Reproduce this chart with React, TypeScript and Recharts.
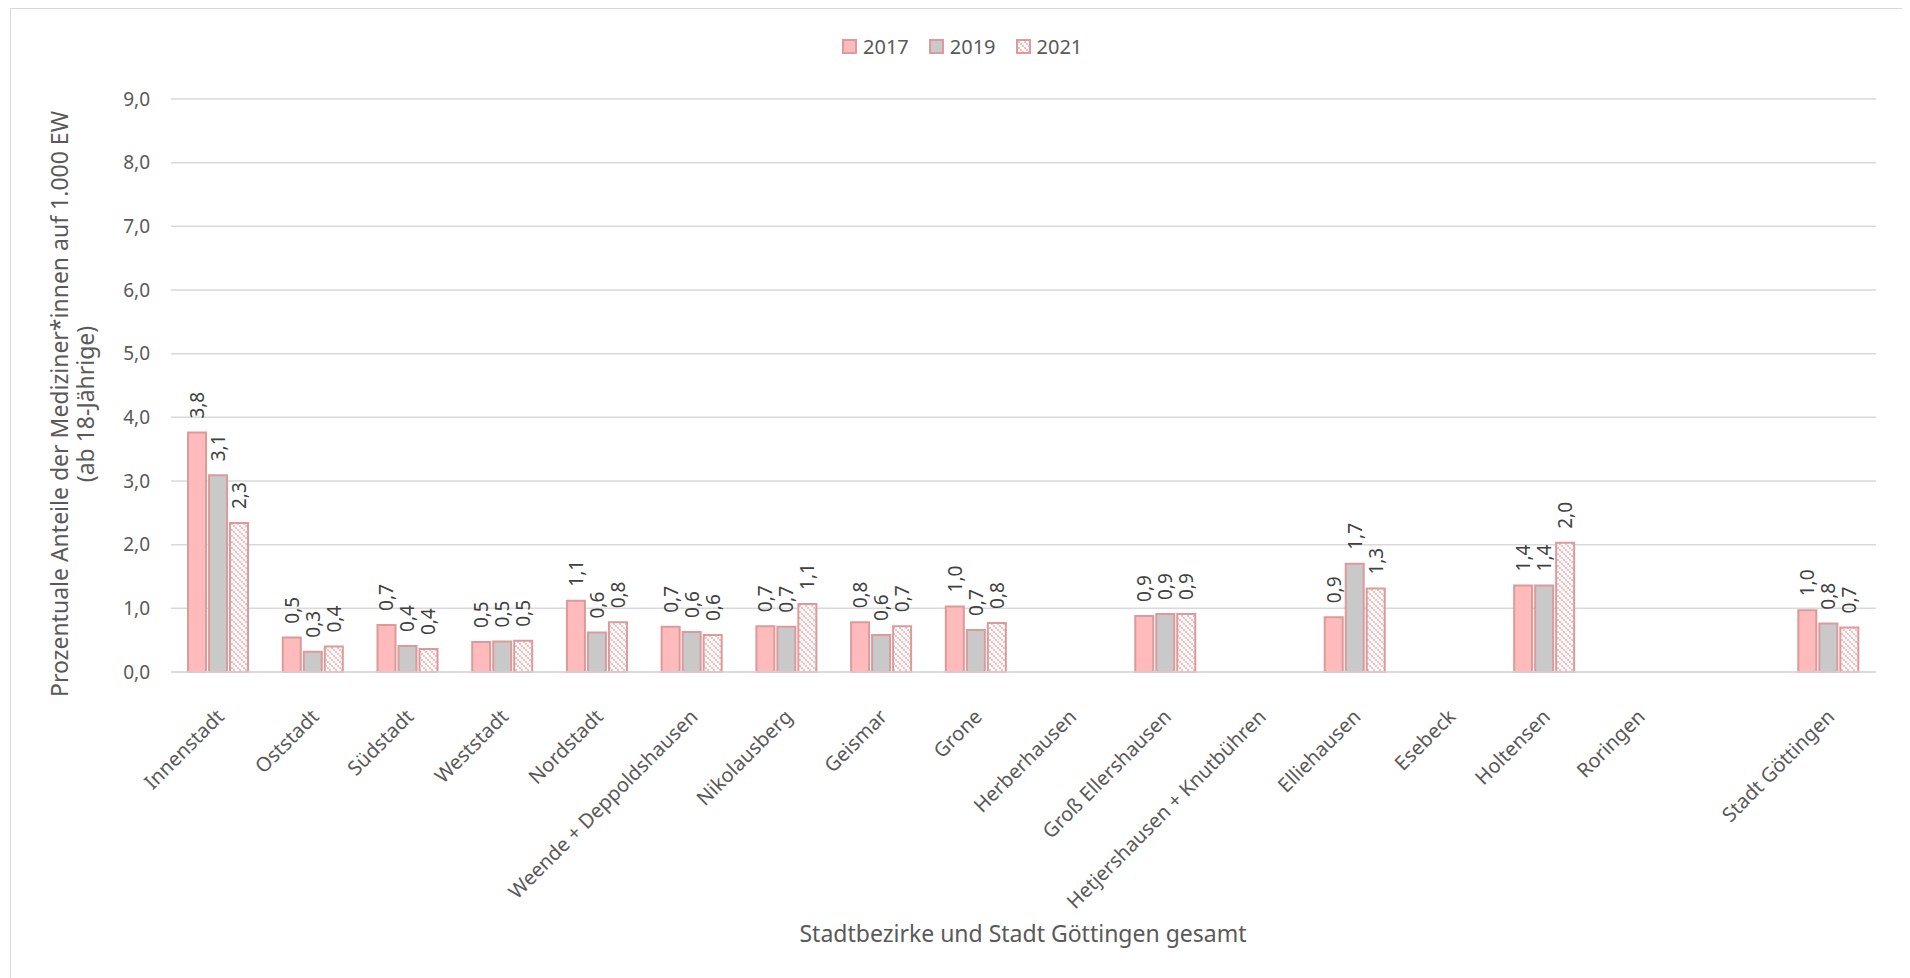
import { BarChart, Bar, XAxis, YAxis, CartesianGrid, LabelList } from 'recharts';

const districts = [
  'Innenstadt', 'Oststadt', 'Südstadt', 'Weststadt', 'Nordstadt', 'Weende + Deppoldshausen',
  'Nikolausberg', 'Geismar', 'Grone', 'Herberhausen', 'Groß Ellershausen',
  'Hetjershausen + Knutbühren', 'Elliehausen', 'Esebeck', 'Holtensen', 'Roringen', '', 'Stadt Göttingen',
];
const values2017 = [3.76, 0.54, 0.74, 0.47, 1.12, 0.71, 0.72, 0.78, 1.03, null, 0.88, null, 0.86, null, 1.36, null, null, 0.97];
const values2019 = [3.09, 0.32, 0.41, 0.48, 0.62, 0.63, 0.71, 0.58, 0.66, null, 0.91, null, 1.7, null, 1.36, null, null, 0.76];
const values2021 = [2.34, 0.4, 0.36, 0.49, 0.78, 0.58, 1.07, 0.72, 0.77, null, 0.91, null, 1.31, null, 2.03, null, null, 0.7];
const yTicks = [0, 1, 2, 3, 4, 5, 6, 7, 8, 9];

const data = districts.map((name, i) => ({
  name,
  y2017: values2017[i],
  y2019: values2019[i],
  y2021: values2021[i],
}));

const FONT = '"Noto Sans", sans-serif';
const PINK = '#FFBBBB';
const GREY = '#C9C9C9';
const EDGE = '#DC9A9A';

const fmt = (v: number) => v.toFixed(1).replace('.', ',');

const ValueLabel = (props: any) => {
  const { x, y, width, value } = props;
  if (value == null) return null;
  const cx = x + width / 2;
  const cy = y - 14;
  return (
    <text
      x={cx}
      y={cy}
      transform={`rotate(-90, ${cx}, ${cy})`}
      textAnchor="start"
      dominantBaseline="central"
      fontSize={19}
      fontFamily={FONT}
      fill="#404040"
    >
      {fmt(value)}
    </text>
  );
};

const CategoryTick = (props: any) => {
  const { x, y, payload } = props;
  const tx = x + 7;
  const ty = y + 38;
  return (
    <text
      x={tx}
      y={ty}
      transform={`rotate(-45, ${tx}, ${ty})`}
      textAnchor="end"
      fontSize={20}
      fontFamily={FONT}
      fill="#595959"
    >
      {payload.value}
    </text>
  );
};

const legendItems = [
  { label: '2017', fill: PINK },
  { label: '2019', fill: GREY },
  { label: '2021', fill: 'url(#hatch)' },
];

export default function App() {
  return (
    <div
      style={{
        position: 'relative',
        width: 1897,
        height: 980,
        marginLeft: 2,
        border: '1px solid #d9d9d9',
        boxSizing: 'border-box',
        fontFamily: FONT,
        background: '#fff',
      }}
    >
      {/* legend */}
      <div
        style={{
          position: 'absolute',
          left: 831,
          top: 24,
          display: 'flex',
          alignItems: 'center',
          gap: 20,
          fontSize: 20,
          color: '#595959',
        }}
      >
        {legendItems.map((it) => (
          <div key={it.label} style={{ display: 'flex', alignItems: 'center', gap: 6 }}>
            <svg width={15} height={15}>
              <defs>
                <pattern id={`lg${it.label}`} width={6} height={6} patternUnits="userSpaceOnUse">
                  <rect width={6} height={6} fill="#fff" />
                  <rect x={0} y={0} width={2} height={2} fill={PINK} />
                  <rect x={2} y={2} width={2} height={2} fill={PINK} />
                  <rect x={4} y={4} width={2} height={2} fill={PINK} />
                </pattern>
              </defs>
              <rect
                x={1}
                y={1}
                width={13}
                height={13}
                fill={it.label === '2021' ? `url(#lg${it.label})` : it.fill}
                stroke={EDGE}
                strokeWidth={2}
              />
            </svg>
            <span>{it.label}</span>
          </div>
        ))}
      </div>

      {/* y axis title */}
      <div
        style={{
          position: 'absolute',
          left: 61,
          top: 395,
          transform: 'translate(-50%, -50%) rotate(-90deg)',
          whiteSpace: 'nowrap',
          textAlign: 'center',
          fontSize: 23,
          lineHeight: '26px',
          color: '#595959',
        }}
      >
        Prozentuale Anteile der Mediziner*innen auf 1.000 EW
        <br />
        (ab 18-Jährige)
      </div>

      {/* x axis title */}
      <div
        style={{
          position: 'absolute',
          left: 1012,
          top: 924,
          transform: 'translate(-50%, -50%)',
          whiteSpace: 'nowrap',
          fontSize: 23,
          color: '#595959',
        }}
      >
        Stadtbezirke und Stadt Göttingen gesamt
      </div>

      <BarChart
        width={1895}
        height={978}
        data={data}
        margin={{ top: 90, right: 30, left: 0, bottom: 15 }}
        barCategoryGap="18%"
        barGap={3}
      >
        <defs>
          <pattern id="hatch" width={6} height={6} patternUnits="userSpaceOnUse">
            <rect width={6} height={6} fill="#fff" />
            <rect x={0} y={0} width={2} height={2} fill={PINK} />
            <rect x={2} y={2} width={2} height={2} fill={PINK} />
            <rect x={4} y={4} width={2} height={2} fill={PINK} />
          </pattern>
        </defs>
        <CartesianGrid vertical={false} stroke="#D9D9D9" strokeWidth={1.5} />
        <XAxis
          dataKey="name"
          interval={0}
          height={300}
          tickLine={false}
          axisLine={{ stroke: '#D9D9D9', strokeWidth: 1.5 }}
          tick={<CategoryTick />}
        />
        <YAxis
          width={160}
          domain={[0, 9]}
          ticks={yTicks}
          tickFormatter={fmt}
          tickLine={false}
          axisLine={false}
          tickSize={0}
          tickMargin={21}
          tick={{ fontSize: 19, fontFamily: FONT, fill: '#595959' }}
        />
        <Bar dataKey="y2017" fill={PINK} stroke={EDGE} strokeWidth={2} isAnimationActive={false}>
          <LabelList dataKey="y2017" content={<ValueLabel />} />
        </Bar>
        <Bar dataKey="y2019" fill={GREY} stroke={EDGE} strokeWidth={2} isAnimationActive={false}>
          <LabelList dataKey="y2019" content={<ValueLabel />} />
        </Bar>
        <Bar dataKey="y2021" fill="url(#hatch)" stroke={EDGE} strokeWidth={2} isAnimationActive={false}>
          <LabelList dataKey="y2021" content={<ValueLabel />} />
        </Bar>
      </BarChart>
    </div>
  );
}
